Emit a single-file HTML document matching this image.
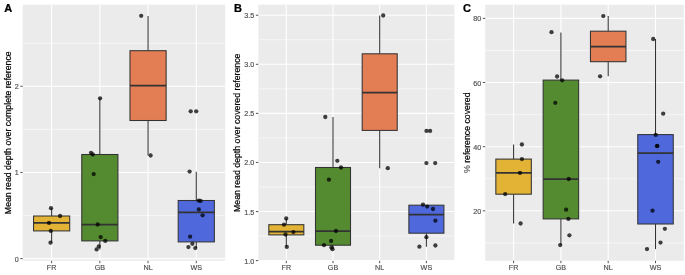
<!DOCTYPE html>
<html><head><meta charset="utf-8"><style>
html,body{margin:0;padding:0;background:#fff;width:685px;height:275px;overflow:hidden}
svg{display:block;will-change:transform;filter:blur(0.3px)}
text{font-family:"Liberation Sans",sans-serif}
</style></head><body>
<svg width="685" height="275" viewBox="0 0 685 275">
<rect width="685" height="275" fill="#fff"/>

<rect x="22.70" y="4.7" width="202.50" height="256.10" fill="#EBEBEB"/>
<line x1="22.70" x2="225.20" y1="215.53" y2="215.53" stroke="#fff" stroke-width="0.55"/>
<line x1="22.70" x2="225.20" y1="129.38" y2="129.38" stroke="#fff" stroke-width="0.55"/>
<line x1="22.70" x2="225.20" y1="43.23" y2="43.23" stroke="#fff" stroke-width="0.55"/>
<line x1="22.70" x2="225.20" y1="258.60" y2="258.60" stroke="#fff" stroke-width="1.1"/>
<line x1="22.70" x2="225.20" y1="172.45" y2="172.45" stroke="#fff" stroke-width="1.1"/>
<line x1="22.70" x2="225.20" y1="86.30" y2="86.30" stroke="#fff" stroke-width="1.1"/>
<line x1="51.63" x2="51.63" y1="4.7" y2="260.8" stroke="#fff" stroke-width="1.1"/>
<line x1="99.84" x2="99.84" y1="4.7" y2="260.8" stroke="#fff" stroke-width="1.1"/>
<line x1="148.06" x2="148.06" y1="4.7" y2="260.8" stroke="#fff" stroke-width="1.1"/>
<line x1="196.27" x2="196.27" y1="4.7" y2="260.8" stroke="#fff" stroke-width="1.1"/>
<line x1="51.63" x2="51.63" y1="208.20" y2="216.00" stroke="#333" stroke-width="1.05"/>
<line x1="51.63" x2="51.63" y1="230.90" y2="242.70" stroke="#333" stroke-width="1.05"/>
<rect x="33.55" y="216.00" width="36.16" height="14.90" fill="#E2B334" stroke="#333" stroke-width="1.05"/>
<line x1="33.55" x2="69.71" y1="222.90" y2="222.90" stroke="#333" stroke-width="1.75"/>
<circle cx="51.00" cy="208.20" r="2.15" fill="#000" fill-opacity="0.74"/>
<circle cx="60.10" cy="216.00" r="2.15" fill="#000" fill-opacity="0.74"/>
<circle cx="49.00" cy="222.90" r="2.15" fill="#000" fill-opacity="0.74"/>
<circle cx="50.80" cy="230.90" r="2.15" fill="#000" fill-opacity="0.74"/>
<circle cx="50.50" cy="242.70" r="2.15" fill="#000" fill-opacity="0.74"/>
<line x1="99.84" x2="99.84" y1="98.30" y2="154.50" stroke="#333" stroke-width="1.05"/>
<line x1="99.84" x2="99.84" y1="240.90" y2="249.40" stroke="#333" stroke-width="1.05"/>
<rect x="81.76" y="154.50" width="36.16" height="86.40" fill="#548A30" stroke="#333" stroke-width="1.05"/>
<line x1="81.76" x2="117.92" y1="224.50" y2="224.50" stroke="#333" stroke-width="1.75"/>
<circle cx="100.10" cy="98.30" r="2.15" fill="#000" fill-opacity="0.74"/>
<circle cx="91.00" cy="152.80" r="2.15" fill="#000" fill-opacity="0.74"/>
<circle cx="92.80" cy="154.50" r="2.15" fill="#000" fill-opacity="0.74"/>
<circle cx="93.70" cy="174.10" r="2.15" fill="#000" fill-opacity="0.74"/>
<circle cx="97.70" cy="224.50" r="2.15" fill="#000" fill-opacity="0.74"/>
<circle cx="100.70" cy="237.10" r="2.15" fill="#000" fill-opacity="0.74"/>
<circle cx="105.30" cy="240.90" r="2.15" fill="#000" fill-opacity="0.74"/>
<circle cx="98.80" cy="246.40" r="2.15" fill="#000" fill-opacity="0.74"/>
<circle cx="96.60" cy="249.40" r="2.15" fill="#000" fill-opacity="0.74"/>
<line x1="148.06" x2="148.06" y1="15.90" y2="50.70" stroke="#333" stroke-width="1.05"/>
<line x1="148.06" x2="148.06" y1="120.50" y2="155.50" stroke="#333" stroke-width="1.05"/>
<rect x="129.98" y="50.70" width="36.16" height="69.80" fill="#E37E54" stroke="#333" stroke-width="1.05"/>
<line x1="129.98" x2="166.14" y1="85.60" y2="85.60" stroke="#333" stroke-width="1.75"/>
<circle cx="141.20" cy="15.80" r="2.15" fill="#000" fill-opacity="0.74"/>
<circle cx="150.60" cy="155.50" r="2.15" fill="#000" fill-opacity="0.74"/>
<line x1="196.27" x2="196.27" y1="171.80" y2="200.50" stroke="#333" stroke-width="1.05"/>
<line x1="196.27" x2="196.27" y1="241.90" y2="248.00" stroke="#333" stroke-width="1.05"/>
<rect x="178.19" y="200.50" width="36.16" height="41.40" fill="#4F69DD" stroke="#333" stroke-width="1.05"/>
<line x1="178.19" x2="214.35" y1="212.40" y2="212.40" stroke="#333" stroke-width="1.75"/>
<circle cx="190.70" cy="111.30" r="2.15" fill="#000" fill-opacity="0.74"/>
<circle cx="196.20" cy="111.30" r="2.15" fill="#000" fill-opacity="0.74"/>
<circle cx="189.60" cy="171.60" r="2.15" fill="#000" fill-opacity="0.74"/>
<circle cx="198.60" cy="200.60" r="2.15" fill="#000" fill-opacity="0.74"/>
<circle cx="200.60" cy="200.90" r="2.15" fill="#000" fill-opacity="0.74"/>
<circle cx="198.80" cy="209.40" r="2.15" fill="#000" fill-opacity="0.74"/>
<circle cx="202.60" cy="215.30" r="2.15" fill="#000" fill-opacity="0.74"/>
<circle cx="190.10" cy="236.70" r="2.15" fill="#000" fill-opacity="0.74"/>
<circle cx="192.40" cy="243.80" r="2.15" fill="#000" fill-opacity="0.74"/>
<circle cx="188.40" cy="247.10" r="2.15" fill="#000" fill-opacity="0.74"/>
<circle cx="195.30" cy="248.10" r="2.15" fill="#000" fill-opacity="0.74"/>
<line x1="20.30" x2="22.70" y1="258.60" y2="258.60" stroke="#333" stroke-width="0.85"/>
<text transform="translate(18.70,261.60) scale(1,1.12)" font-size="7.2" fill="#4D4D4D" stroke="#4D4D4D" stroke-width="0.15" text-anchor="end">0</text>
<line x1="20.30" x2="22.70" y1="172.45" y2="172.45" stroke="#333" stroke-width="0.85"/>
<text transform="translate(18.70,175.45) scale(1,1.12)" font-size="7.2" fill="#4D4D4D" stroke="#4D4D4D" stroke-width="0.15" text-anchor="end">1</text>
<line x1="20.30" x2="22.70" y1="86.30" y2="86.30" stroke="#333" stroke-width="0.85"/>
<text transform="translate(18.70,89.30) scale(1,1.12)" font-size="7.2" fill="#4D4D4D" stroke="#4D4D4D" stroke-width="0.15" text-anchor="end">2</text>
<line x1="51.63" x2="51.63" y1="260.80" y2="263.20" stroke="#333" stroke-width="0.85"/>
<text transform="translate(51.63,270.25) scale(1,1.12)" font-size="7.2" fill="#4D4D4D" stroke="#4D4D4D" stroke-width="0.15" text-anchor="middle">FR</text>
<line x1="99.84" x2="99.84" y1="260.80" y2="263.20" stroke="#333" stroke-width="0.85"/>
<text transform="translate(99.84,270.25) scale(1,1.12)" font-size="7.2" fill="#4D4D4D" stroke="#4D4D4D" stroke-width="0.15" text-anchor="middle">GB</text>
<line x1="148.06" x2="148.06" y1="260.80" y2="263.20" stroke="#333" stroke-width="0.85"/>
<text transform="translate(148.06,270.25) scale(1,1.12)" font-size="7.2" fill="#4D4D4D" stroke="#4D4D4D" stroke-width="0.15" text-anchor="middle">NL</text>
<line x1="196.27" x2="196.27" y1="260.80" y2="263.20" stroke="#333" stroke-width="0.85"/>
<text transform="translate(196.27,270.25) scale(1,1.12)" font-size="7.2" fill="#4D4D4D" stroke="#4D4D4D" stroke-width="0.15" text-anchor="middle">WS</text>
<text transform="translate(11.00,132.75) rotate(-90) scale(1,1.1)" font-size="8.75" fill="#000" stroke="#000" stroke-width="0.2" text-anchor="middle">Mean read depth over complete reference</text>
<text transform="translate(4.30,11.60) scale(1.1,1)" font-size="10" font-weight="bold" fill="#000" stroke="#000" stroke-width="0.25">A</text>
<rect x="258.30" y="4.7" width="196.10" height="256.10" fill="#EBEBEB"/>
<line x1="258.30" x2="454.40" y1="236.08" y2="236.08" stroke="#fff" stroke-width="0.55"/>
<line x1="258.30" x2="454.40" y1="187.00" y2="187.00" stroke="#fff" stroke-width="0.55"/>
<line x1="258.30" x2="454.40" y1="137.92" y2="137.92" stroke="#fff" stroke-width="0.55"/>
<line x1="258.30" x2="454.40" y1="88.84" y2="88.84" stroke="#fff" stroke-width="0.55"/>
<line x1="258.30" x2="454.40" y1="39.76" y2="39.76" stroke="#fff" stroke-width="0.55"/>
<line x1="258.30" x2="454.40" y1="260.62" y2="260.62" stroke="#fff" stroke-width="1.1"/>
<line x1="258.30" x2="454.40" y1="211.54" y2="211.54" stroke="#fff" stroke-width="1.1"/>
<line x1="258.30" x2="454.40" y1="162.46" y2="162.46" stroke="#fff" stroke-width="1.1"/>
<line x1="258.30" x2="454.40" y1="113.38" y2="113.38" stroke="#fff" stroke-width="1.1"/>
<line x1="258.30" x2="454.40" y1="64.30" y2="64.30" stroke="#fff" stroke-width="1.1"/>
<line x1="258.30" x2="454.40" y1="15.22" y2="15.22" stroke="#fff" stroke-width="1.1"/>
<line x1="286.31" x2="286.31" y1="4.7" y2="260.8" stroke="#fff" stroke-width="1.1"/>
<line x1="333.00" x2="333.00" y1="4.7" y2="260.8" stroke="#fff" stroke-width="1.1"/>
<line x1="379.70" x2="379.70" y1="4.7" y2="260.8" stroke="#fff" stroke-width="1.1"/>
<line x1="426.39" x2="426.39" y1="4.7" y2="260.8" stroke="#fff" stroke-width="1.1"/>
<line x1="286.31" x2="286.31" y1="218.50" y2="224.70" stroke="#333" stroke-width="1.05"/>
<line x1="286.31" x2="286.31" y1="234.90" y2="246.90" stroke="#333" stroke-width="1.05"/>
<rect x="268.81" y="224.70" width="35.02" height="10.20" fill="#E2B334" stroke="#333" stroke-width="1.05"/>
<line x1="268.81" x2="303.82" y1="231.60" y2="231.60" stroke="#333" stroke-width="1.75"/>
<circle cx="286.20" cy="218.50" r="2.15" fill="#000" fill-opacity="0.74"/>
<circle cx="284.00" cy="224.70" r="2.15" fill="#000" fill-opacity="0.74"/>
<circle cx="293.40" cy="232.10" r="2.15" fill="#000" fill-opacity="0.74"/>
<circle cx="285.50" cy="234.50" r="2.15" fill="#000" fill-opacity="0.74"/>
<circle cx="286.80" cy="246.90" r="2.15" fill="#000" fill-opacity="0.74"/>
<line x1="333.00" x2="333.00" y1="117.00" y2="167.50" stroke="#333" stroke-width="1.05"/>
<line x1="333.00" x2="333.00" y1="245.20" y2="249.20" stroke="#333" stroke-width="1.05"/>
<rect x="315.50" y="167.50" width="35.02" height="77.70" fill="#548A30" stroke="#333" stroke-width="1.05"/>
<line x1="315.50" x2="350.51" y1="231.00" y2="231.00" stroke="#333" stroke-width="1.75"/>
<circle cx="325.30" cy="117.00" r="2.15" fill="#000" fill-opacity="0.74"/>
<circle cx="337.30" cy="160.80" r="2.15" fill="#000" fill-opacity="0.74"/>
<circle cx="341.00" cy="167.50" r="2.15" fill="#000" fill-opacity="0.74"/>
<circle cx="328.90" cy="179.70" r="2.15" fill="#000" fill-opacity="0.74"/>
<circle cx="336.00" cy="231.00" r="2.15" fill="#000" fill-opacity="0.74"/>
<circle cx="331.10" cy="241.00" r="2.15" fill="#000" fill-opacity="0.74"/>
<circle cx="324.00" cy="245.20" r="2.15" fill="#000" fill-opacity="0.74"/>
<circle cx="331.40" cy="247.40" r="2.15" fill="#000" fill-opacity="0.74"/>
<circle cx="332.50" cy="249.20" r="2.15" fill="#000" fill-opacity="0.74"/>
<line x1="379.70" x2="379.70" y1="15.50" y2="53.80" stroke="#333" stroke-width="1.05"/>
<line x1="379.70" x2="379.70" y1="130.40" y2="168.20" stroke="#333" stroke-width="1.05"/>
<rect x="362.19" y="53.80" width="35.02" height="76.60" fill="#E37E54" stroke="#333" stroke-width="1.05"/>
<line x1="362.19" x2="397.20" y1="92.60" y2="92.60" stroke="#333" stroke-width="1.75"/>
<circle cx="383.20" cy="15.50" r="2.15" fill="#000" fill-opacity="0.74"/>
<circle cx="387.80" cy="168.20" r="2.15" fill="#000" fill-opacity="0.74"/>
<line x1="426.39" x2="426.39" y1="205.20" y2="205.20" stroke="#333" stroke-width="1.05"/>
<line x1="426.39" x2="426.39" y1="233.20" y2="246.70" stroke="#333" stroke-width="1.05"/>
<rect x="408.88" y="205.20" width="35.02" height="28.00" fill="#4F69DD" stroke="#333" stroke-width="1.05"/>
<line x1="408.88" x2="443.89" y1="214.60" y2="214.60" stroke="#333" stroke-width="1.75"/>
<circle cx="426.50" cy="130.90" r="2.15" fill="#000" fill-opacity="0.74"/>
<circle cx="430.10" cy="130.90" r="2.15" fill="#000" fill-opacity="0.74"/>
<circle cx="426.40" cy="163.10" r="2.15" fill="#000" fill-opacity="0.74"/>
<circle cx="435.20" cy="163.10" r="2.15" fill="#000" fill-opacity="0.74"/>
<circle cx="423.00" cy="204.70" r="2.15" fill="#000" fill-opacity="0.74"/>
<circle cx="427.20" cy="206.60" r="2.15" fill="#000" fill-opacity="0.74"/>
<circle cx="433.00" cy="209.00" r="2.15" fill="#000" fill-opacity="0.74"/>
<circle cx="435.40" cy="220.70" r="2.15" fill="#000" fill-opacity="0.74"/>
<circle cx="426.40" cy="237.20" r="2.15" fill="#000" fill-opacity="0.74"/>
<circle cx="419.40" cy="246.70" r="2.15" fill="#000" fill-opacity="0.74"/>
<circle cx="435.40" cy="245.50" r="2.15" fill="#000" fill-opacity="0.74"/>
<line x1="255.90" x2="258.30" y1="260.62" y2="260.62" stroke="#333" stroke-width="0.85"/>
<text transform="translate(254.30,263.62) scale(1,1.12)" font-size="7.2" fill="#4D4D4D" stroke="#4D4D4D" stroke-width="0.15" text-anchor="end">1.0</text>
<line x1="255.90" x2="258.30" y1="211.54" y2="211.54" stroke="#333" stroke-width="0.85"/>
<text transform="translate(254.30,214.54) scale(1,1.12)" font-size="7.2" fill="#4D4D4D" stroke="#4D4D4D" stroke-width="0.15" text-anchor="end">1.5</text>
<line x1="255.90" x2="258.30" y1="162.46" y2="162.46" stroke="#333" stroke-width="0.85"/>
<text transform="translate(254.30,165.46) scale(1,1.12)" font-size="7.2" fill="#4D4D4D" stroke="#4D4D4D" stroke-width="0.15" text-anchor="end">2.0</text>
<line x1="255.90" x2="258.30" y1="113.38" y2="113.38" stroke="#333" stroke-width="0.85"/>
<text transform="translate(254.30,116.38) scale(1,1.12)" font-size="7.2" fill="#4D4D4D" stroke="#4D4D4D" stroke-width="0.15" text-anchor="end">2.5</text>
<line x1="255.90" x2="258.30" y1="64.30" y2="64.30" stroke="#333" stroke-width="0.85"/>
<text transform="translate(254.30,67.30) scale(1,1.12)" font-size="7.2" fill="#4D4D4D" stroke="#4D4D4D" stroke-width="0.15" text-anchor="end">3.0</text>
<line x1="255.90" x2="258.30" y1="15.22" y2="15.22" stroke="#333" stroke-width="0.85"/>
<text transform="translate(254.30,18.22) scale(1,1.12)" font-size="7.2" fill="#4D4D4D" stroke="#4D4D4D" stroke-width="0.15" text-anchor="end">3.5</text>
<line x1="286.31" x2="286.31" y1="260.80" y2="263.20" stroke="#333" stroke-width="0.85"/>
<text transform="translate(286.31,270.25) scale(1,1.12)" font-size="7.2" fill="#4D4D4D" stroke="#4D4D4D" stroke-width="0.15" text-anchor="middle">FR</text>
<line x1="333.00" x2="333.00" y1="260.80" y2="263.20" stroke="#333" stroke-width="0.85"/>
<text transform="translate(333.00,270.25) scale(1,1.12)" font-size="7.2" fill="#4D4D4D" stroke="#4D4D4D" stroke-width="0.15" text-anchor="middle">GB</text>
<line x1="379.70" x2="379.70" y1="260.80" y2="263.20" stroke="#333" stroke-width="0.85"/>
<text transform="translate(379.70,270.25) scale(1,1.12)" font-size="7.2" fill="#4D4D4D" stroke="#4D4D4D" stroke-width="0.15" text-anchor="middle">NL</text>
<line x1="426.39" x2="426.39" y1="260.80" y2="263.20" stroke="#333" stroke-width="0.85"/>
<text transform="translate(426.39,270.25) scale(1,1.12)" font-size="7.2" fill="#4D4D4D" stroke="#4D4D4D" stroke-width="0.15" text-anchor="middle">WS</text>
<text transform="translate(240.40,132.75) rotate(-90) scale(1,1.1)" font-size="8.75" fill="#000" stroke="#000" stroke-width="0.2" text-anchor="middle">Mean read depth over covered reference</text>
<text transform="translate(234.10,11.60) scale(1.1,1)" font-size="10" font-weight="bold" fill="#000" stroke="#000" stroke-width="0.25">B</text>
<rect x="485.20" y="4.7" width="198.70" height="256.10" fill="#EBEBEB"/>
<line x1="485.20" x2="683.90" y1="242.89" y2="242.89" stroke="#fff" stroke-width="0.55"/>
<line x1="485.20" x2="683.90" y1="178.75" y2="178.75" stroke="#fff" stroke-width="0.55"/>
<line x1="485.20" x2="683.90" y1="114.61" y2="114.61" stroke="#fff" stroke-width="0.55"/>
<line x1="485.20" x2="683.90" y1="50.47" y2="50.47" stroke="#fff" stroke-width="0.55"/>
<line x1="485.20" x2="683.90" y1="210.82" y2="210.82" stroke="#fff" stroke-width="1.1"/>
<line x1="485.20" x2="683.90" y1="146.68" y2="146.68" stroke="#fff" stroke-width="1.1"/>
<line x1="485.20" x2="683.90" y1="82.54" y2="82.54" stroke="#fff" stroke-width="1.1"/>
<line x1="485.20" x2="683.90" y1="18.40" y2="18.40" stroke="#fff" stroke-width="1.1"/>
<line x1="513.59" x2="513.59" y1="4.7" y2="260.8" stroke="#fff" stroke-width="1.1"/>
<line x1="560.90" x2="560.90" y1="4.7" y2="260.8" stroke="#fff" stroke-width="1.1"/>
<line x1="608.20" x2="608.20" y1="4.7" y2="260.8" stroke="#fff" stroke-width="1.1"/>
<line x1="655.51" x2="655.51" y1="4.7" y2="260.8" stroke="#fff" stroke-width="1.1"/>
<line x1="513.59" x2="513.59" y1="144.50" y2="159.10" stroke="#333" stroke-width="1.05"/>
<line x1="513.59" x2="513.59" y1="194.20" y2="223.50" stroke="#333" stroke-width="1.05"/>
<rect x="495.84" y="159.10" width="35.48" height="35.10" fill="#E2B334" stroke="#333" stroke-width="1.05"/>
<line x1="495.84" x2="531.33" y1="172.90" y2="172.90" stroke="#333" stroke-width="1.75"/>
<circle cx="521.90" cy="144.50" r="2.15" fill="#000" fill-opacity="0.74"/>
<circle cx="521.90" cy="159.10" r="2.15" fill="#000" fill-opacity="0.74"/>
<circle cx="520.00" cy="172.90" r="2.15" fill="#000" fill-opacity="0.74"/>
<circle cx="505.20" cy="194.10" r="2.15" fill="#000" fill-opacity="0.74"/>
<circle cx="520.60" cy="223.50" r="2.15" fill="#000" fill-opacity="0.74"/>
<line x1="560.90" x2="560.90" y1="32.50" y2="80.10" stroke="#333" stroke-width="1.05"/>
<line x1="560.90" x2="560.90" y1="218.90" y2="245.10" stroke="#333" stroke-width="1.05"/>
<rect x="543.15" y="80.10" width="35.48" height="138.80" fill="#548A30" stroke="#333" stroke-width="1.05"/>
<line x1="543.15" x2="578.64" y1="179.00" y2="179.00" stroke="#333" stroke-width="1.75"/>
<circle cx="551.50" cy="32.20" r="2.15" fill="#000" fill-opacity="0.74"/>
<circle cx="557.10" cy="76.50" r="2.15" fill="#000" fill-opacity="0.74"/>
<circle cx="562.20" cy="80.30" r="2.15" fill="#000" fill-opacity="0.74"/>
<circle cx="555.30" cy="102.80" r="2.15" fill="#000" fill-opacity="0.74"/>
<circle cx="568.70" cy="179.00" r="2.15" fill="#000" fill-opacity="0.74"/>
<circle cx="566.10" cy="209.70" r="2.15" fill="#000" fill-opacity="0.74"/>
<circle cx="568.40" cy="218.90" r="2.15" fill="#000" fill-opacity="0.74"/>
<circle cx="569.40" cy="235.30" r="2.15" fill="#000" fill-opacity="0.74"/>
<circle cx="560.20" cy="245.10" r="2.15" fill="#000" fill-opacity="0.74"/>
<line x1="608.20" x2="608.20" y1="16.10" y2="31.20" stroke="#333" stroke-width="1.05"/>
<line x1="608.20" x2="608.20" y1="61.70" y2="76.30" stroke="#333" stroke-width="1.05"/>
<rect x="590.46" y="31.20" width="35.48" height="30.50" fill="#E37E54" stroke="#333" stroke-width="1.05"/>
<line x1="590.46" x2="625.95" y1="46.60" y2="46.60" stroke="#333" stroke-width="1.75"/>
<circle cx="603.30" cy="16.10" r="2.15" fill="#000" fill-opacity="0.74"/>
<circle cx="600.10" cy="76.30" r="2.15" fill="#000" fill-opacity="0.74"/>
<line x1="655.51" x2="655.51" y1="39.00" y2="134.60" stroke="#333" stroke-width="1.05"/>
<line x1="655.51" x2="655.51" y1="224.00" y2="249.10" stroke="#333" stroke-width="1.05"/>
<rect x="637.77" y="134.60" width="35.48" height="89.40" fill="#4F69DD" stroke="#333" stroke-width="1.05"/>
<line x1="637.77" x2="673.26" y1="153.00" y2="153.00" stroke="#333" stroke-width="1.75"/>
<circle cx="653.20" cy="39.00" r="2.15" fill="#000" fill-opacity="0.74"/>
<circle cx="663.20" cy="113.70" r="2.15" fill="#000" fill-opacity="0.74"/>
<circle cx="655.70" cy="134.90" r="2.15" fill="#000" fill-opacity="0.74"/>
<circle cx="657.30" cy="145.80" r="2.15" fill="#000" fill-opacity="0.74"/>
<circle cx="657.00" cy="146.20" r="2.15" fill="#000" fill-opacity="0.74"/>
<circle cx="658.20" cy="161.80" r="2.15" fill="#000" fill-opacity="0.74"/>
<circle cx="652.50" cy="210.70" r="2.15" fill="#000" fill-opacity="0.74"/>
<circle cx="664.90" cy="228.80" r="2.15" fill="#000" fill-opacity="0.74"/>
<circle cx="660.50" cy="242.60" r="2.15" fill="#000" fill-opacity="0.74"/>
<circle cx="647.00" cy="249.10" r="2.15" fill="#000" fill-opacity="0.74"/>
<line x1="482.80" x2="485.20" y1="210.82" y2="210.82" stroke="#333" stroke-width="0.85"/>
<text transform="translate(481.20,213.82) scale(1,1.12)" font-size="7.2" fill="#4D4D4D" stroke="#4D4D4D" stroke-width="0.15" text-anchor="end">20</text>
<line x1="482.80" x2="485.20" y1="146.68" y2="146.68" stroke="#333" stroke-width="0.85"/>
<text transform="translate(481.20,149.68) scale(1,1.12)" font-size="7.2" fill="#4D4D4D" stroke="#4D4D4D" stroke-width="0.15" text-anchor="end">40</text>
<line x1="482.80" x2="485.20" y1="82.54" y2="82.54" stroke="#333" stroke-width="0.85"/>
<text transform="translate(481.20,85.54) scale(1,1.12)" font-size="7.2" fill="#4D4D4D" stroke="#4D4D4D" stroke-width="0.15" text-anchor="end">60</text>
<line x1="482.80" x2="485.20" y1="18.40" y2="18.40" stroke="#333" stroke-width="0.85"/>
<text transform="translate(481.20,21.40) scale(1,1.12)" font-size="7.2" fill="#4D4D4D" stroke="#4D4D4D" stroke-width="0.15" text-anchor="end">80</text>
<line x1="513.59" x2="513.59" y1="260.80" y2="263.20" stroke="#333" stroke-width="0.85"/>
<text transform="translate(513.59,270.25) scale(1,1.12)" font-size="7.2" fill="#4D4D4D" stroke="#4D4D4D" stroke-width="0.15" text-anchor="middle">FR</text>
<line x1="560.90" x2="560.90" y1="260.80" y2="263.20" stroke="#333" stroke-width="0.85"/>
<text transform="translate(560.90,270.25) scale(1,1.12)" font-size="7.2" fill="#4D4D4D" stroke="#4D4D4D" stroke-width="0.15" text-anchor="middle">GB</text>
<line x1="608.20" x2="608.20" y1="260.80" y2="263.20" stroke="#333" stroke-width="0.85"/>
<text transform="translate(608.20,270.25) scale(1,1.12)" font-size="7.2" fill="#4D4D4D" stroke="#4D4D4D" stroke-width="0.15" text-anchor="middle">NL</text>
<line x1="655.51" x2="655.51" y1="260.80" y2="263.20" stroke="#333" stroke-width="0.85"/>
<text transform="translate(655.51,270.25) scale(1,1.12)" font-size="7.2" fill="#4D4D4D" stroke="#4D4D4D" stroke-width="0.15" text-anchor="middle">WS</text>
<text transform="translate(470.20,132.75) rotate(-90) scale(1,1.1)" font-size="8.75" fill="#000" stroke="#000" stroke-width="0.2" text-anchor="middle"><tspan fill="#666" stroke="#666">%</tspan> reference covered</text>
<text transform="translate(463.00,11.60) scale(1.1,1)" font-size="10" font-weight="bold" fill="#000" stroke="#000" stroke-width="0.25">C</text>
</svg>
</body></html>
